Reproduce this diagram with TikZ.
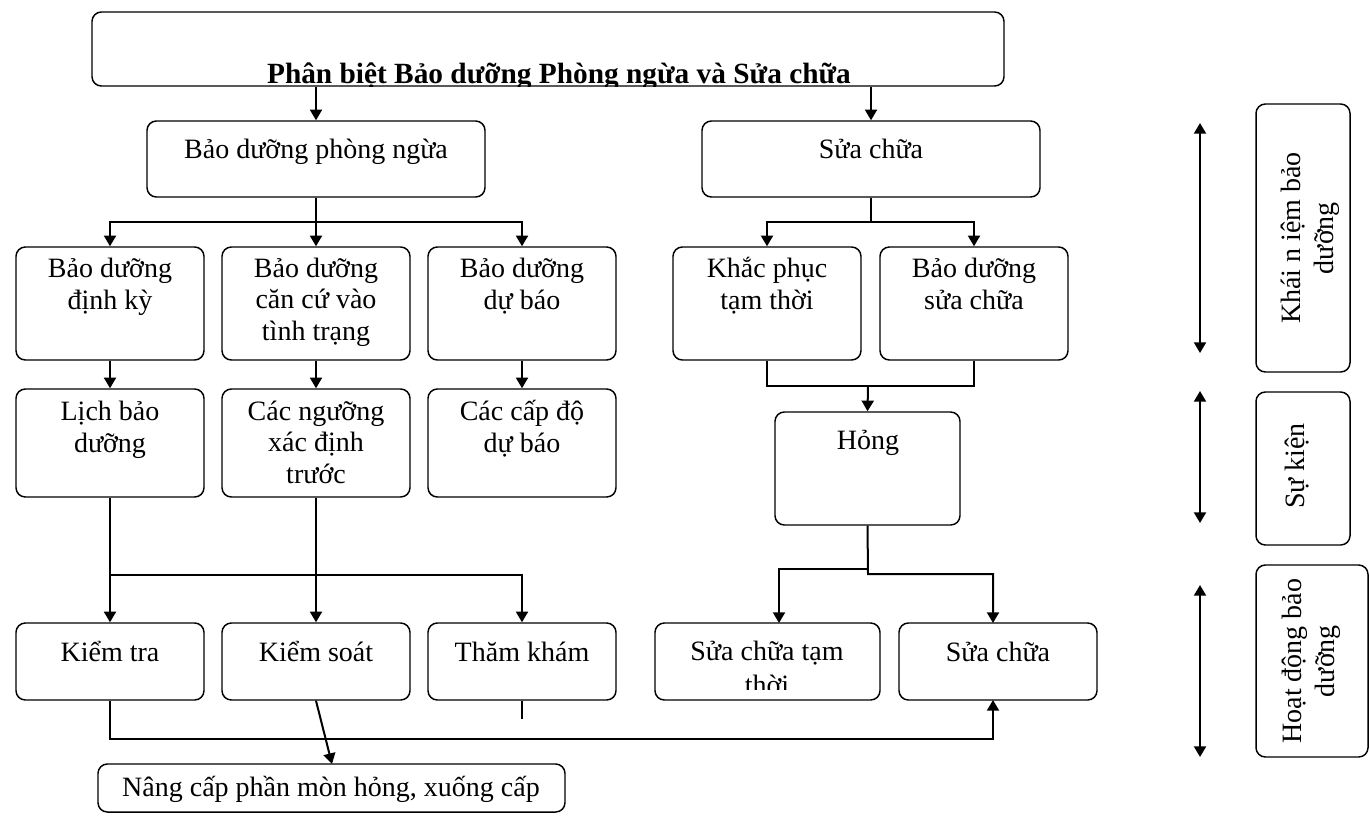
\documentclass[tikz,border=0pt]{standalone}
\usepackage{fontspec}
\setmainfont{Liberation Serif}
\usetikzlibrary{arrows.meta,fit}
\begin{document}
\begin{tikzpicture}[x=0.75pt,y=-0.75pt,
  box/.style={draw, line width=1.1pt, rounded corners=7pt, inner sep=0pt},
  % multi-line texts are anchored at the baseline of their last line
  txt/.style={font=\fontsize{21}{23.5}\selectfont, align=center, inner sep=0pt, anchor=base},
  vtxt/.style={font=\fontsize{21}{25}\selectfont, align=center, inner sep=0pt, rotate=90},
  link/.style={line width=1.5pt},
  arr/.style={line width=1.5pt, -{Triangle[length=8pt,width=9pt]}},
  darr/.style={line width=1.5pt, {Triangle[length=8pt,width=9pt]}-{Triangle[length=8pt,width=9pt]}},
  stub/.style={line width=0.8pt}
]
\useasboundingbox (0,0) rectangle (1370,815);

% ---- boxes ----
\node[box, fit={(92,12) (1004,86)}] (title) {};
\node[box, fit={(147,121) (485,197)}] (bdpn) {};
\node[box, fit={(702,121) (1040,197)}] (sc) {};

\node[box, fit={(16,247) (204,360)}] (dk) {};
\node[box, fit={(222,247) (410,360)}] (cc) {};
\node[box, fit={(428,247) (616,360)}] (db) {};
\node[box, fit={(673,247) (861,360)}] (kp) {};
\node[box, fit={(880,247) (1068,360)}] (bdsc) {};

\node[box, fit={(16,389) (204,497)}] (lich) {};
\node[box, fit={(222,389) (410,497)}] (ng) {};
\node[box, fit={(428,389) (616,497)}] (cd) {};
\node[box, fit={(775,412) (960,525)}] (hong) {};

\node[box, fit={(16,623) (204,700)}] (kt) {};
\node[box, fit={(222,623) (410,700)}] (ks) {};
\node[box, fit={(428,623) (616,700)}] (tk) {};
\node[box, fit={(655,623) (880,700)}] (sct) {};
\node[box, fit={(899,623) (1097,700)}] (sc2) {};

\node[box, fit={(98,764) (565,812)}] (nang) {};

\node[box, fit={(1256,104) (1350,372)}] (kn) {};
\node[box, fit={(1256,392) (1350,545)}] (sk) {};
\node[box, fit={(1256,565) (1368,757)}] (hd) {};

% ---- texts (overflowing text is cut at the inner text area) ----
\begin{scope}
  \clip[rounded corners=7pt] (92,12) rectangle (1004,86);
  \node[txt, font=\bfseries\fontsize{22}{24}\selectfont] (title-t) at (559,83) {Phân biệt Bảo dưỡng Phòng ngừa và Sửa chữa};
\end{scope}
\node[txt] (bdpn-t) at (316,158) {Bảo dưỡng phòng ngừa};
\node[txt] (sc-t) at (871,158) {Sửa chữa};

\node[txt] (dk-t) at (110,309) {Bảo dưỡng\\định kỳ};
\node[txt] (cc-t) at (316,340) {Bảo dưỡng\\căn cứ vào\\tình trạng};
\node[txt] (db-t) at (522,309) {Bảo dưỡng\\dự báo};
\node[txt] (kp-t) at (767,309) {Khắc phục\\tạm thời};
\node[txt] (bdsc-t) at (974,309) {Bảo dưỡng\\sửa chữa};

\node[txt] (lich-t) at (110,452) {Lịch bảo\\dưỡng};
\begin{scope}
  \clip (222,389) rectangle (410,486);
  \node[txt] (ng-t) at (316,483) {Các ngưỡng\\xác định\\trước};
\end{scope}
\node[txt] (cd-t) at (522,452) {Các cấp độ\\dự báo};
\node[txt] (hong-t) at (868,449) {Hỏng};

\node[txt] (kt-t) at (110,661) {Kiểm tra};
\node[txt] (ks-t) at (316,661) {Kiểm soát};
\node[txt] (tk-t) at (522,661) {Thăm khám};
\begin{scope}
  \clip (655,623) rectangle (880,689);
  \node[txt, font=\fontsize{21}{25}\selectfont] (sct-t) at (767,694) {Sửa chữa tạm\\thời};
\end{scope}
\node[txt] (sc2-t) at (998,661) {Sửa chữa};

\node[txt] (nang-t) at (331,796) {Nâng cấp phần mòn hỏng, xuống cấp};

\node[vtxt] (kn-t) at (1310,238) {Khái n iệm bảo\\dưỡng};
\node[vtxt] (sk-t) at (1297,466) {Sự kiện};
\node[vtxt] (hd-t) at (1311,661) {Hoạt động bảo\\dưỡng};

% ---- junction points ----
\coordinate (j1) at (316,222);
\coordinate (j2) at (871,222);
\coordinate (j3) at (868,386);
\coordinate (j4a) at (868,569);
\coordinate (j4b) at (868,574);
\coordinate (sctin) at (779,623);
\coordinate (sc2in) at (993,623);
\coordinate (j5) at (110,575);
\coordinate (j6) at (110,739);
\coordinate (sc2out) at (993,700);
\coordinate (nangin) at (332,764);
\coordinate (tkend) at (522,719);

% ---- connectors ----
\draw[arr] (bdpn.north |- title.south) -- (bdpn.north);
\draw[arr] (sc.north |- title.south) -- (sc.north);

\draw[arr] (bdpn.south) -- (j1) -| (dk.north);
\draw[arr] (j1) -- (cc.north);
\draw[arr] (j1) -| (db.north);

\draw[arr] (sc.south) -- (j2) -| (kp.north);
\draw[arr] (j2) -| (bdsc.north);

\draw[arr] (dk.south) -- (lich.north);
\draw[arr] (cc.south) -- (ng.north);
\draw[arr] (db.south) -- (cd.north);

\draw[link] (kp.south) |- (j3) -| (bdsc.south);
\draw[arr] (j3) -- (hong.north);

\draw[arr] (hong.south) -- (j4b) -| (sc2in);
\draw[arr] (j4a) -| (sctin);

\draw[arr] (lich.south) -- (kt.north);
\draw[arr] (j5) -| (tk.north);
\draw[arr] (ng.south) -- (ks.north);

\draw[arr] (kt.south) -- (j6) -| (sc2out);
\draw[arr] (ks.south) -- (nangin);
\draw[stub] (tk.south) -- (tkend);

% ---- level markers ----
\coordinate (m1a) at (1200,123);
\coordinate (m1b) at (1200,353);
\coordinate (m2a) at (1200,391);
\coordinate (m2b) at (1200,523);
\coordinate (m3a) at (1200,585);
\coordinate (m3b) at (1200,757);
\draw[darr] (m1a) -- (m1b);
\draw[darr] (m2a) -- (m2b);
\draw[darr] (m3a) -- (m3b);
\end{tikzpicture}
\end{document}
